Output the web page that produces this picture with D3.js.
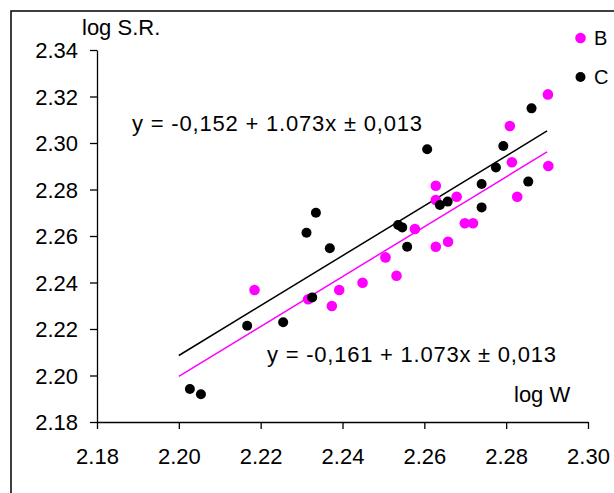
<!DOCTYPE html>
<html>
<head>
<meta charset="utf-8">
<script src="https://cdn.jsdelivr.net/npm/d3@7"></script>
<style>
  body { margin: 0; background: #fff; }
  svg { display: block; font-family: "Liberation Sans", Arial, sans-serif; }
</style>
</head>
<body>
<div id="chart"></div>
<script>
// series B (magenta) : [log W, log S.R.]
var seriesB = [
  [2.2185, 2.2368], [2.2316, 2.2328], [2.2374, 2.2299], [2.2392, 2.2368],
  [2.2449, 2.2399], [2.2505, 2.2508], [2.2532, 2.2429], [2.2577, 2.2630],
  [2.2628, 2.2554], [2.2628, 2.2755], [2.2628, 2.2816], [2.2658, 2.2575],
  [2.2679, 2.2769], [2.2699, 2.2655], [2.2719, 2.2655], [2.2809, 2.3073],
  [2.2814, 2.2917], [2.2827, 2.2769], [2.2903, 2.2901], [2.2902, 2.3209]
];
// series C (black)
var seriesC = [
  [2.2027, 2.1942], [2.2054, 2.1919], [2.2167, 2.2214], [2.2255, 2.2229],
  [2.2312, 2.2614], [2.2326, 2.2336], [2.2335, 2.2700], [2.2369, 2.2547],
  [2.2536, 2.2647], [2.2546, 2.2637], [2.2558, 2.2554], [2.2607, 2.2973],
  [2.2638, 2.2733], [2.2657, 2.2748], [2.2740, 2.2824], [2.2740, 2.2723],
  [2.2775, 2.2895], [2.2793, 2.2987], [2.2854, 2.2834], [2.2862, 2.3149]
];
// regression lines y = a + b x, drawn over [2.20, 2.29]
var fitB = { a: -0.161, b: 1.073 };
var fitC = { a: -0.152, b: 1.073 };
var fitRange = [2.20, 2.29];

var xTicks = [2.18, 2.20, 2.22, 2.24, 2.26, 2.28, 2.30];
var yTicks = [2.18, 2.20, 2.22, 2.24, 2.26, 2.28, 2.30, 2.32, 2.34];

var width = 614, height = 493;

var svg = d3.select("#chart")
  .append("svg")
  .attr("width", width)
  .attr("height", height);

// outer frame (right and bottom edges fall outside the picture)
svg.append("rect")
  .attr("x", 11)
  .attr("y", 11)
  .attr("width", 700)
  .attr("height", 600)
  .attr("fill", "none")
  .attr("stroke", "#000")
  .attr("stroke-width", 1.5);

var x = d3.scaleLinear().domain([2.18, 2.30]).range([97, 588]);
var y = d3.scaleLinear().domain([2.18, 2.34]).range([422, 50]);

var fmt = d3.format(".2f");

var yAxis = svg.append("g")
  .attr("transform", "translate(" + x(2.18) + ",0)")
  .call(d3.axisLeft(y).tickValues(yTicks).tickFormat(fmt).tickSize(7).tickSizeOuter(0).tickPadding(12));

var xAxis = svg.append("g")
  .attr("transform", "translate(0," + y(2.18) + ")")
  .call(d3.axisBottom(x).tickValues(xTicks).tickFormat(fmt).tickSize(7).tickSizeOuter(0));

[yAxis, xAxis].forEach(function (g) {
  g.selectAll("path, line").attr("stroke", "#000").attr("stroke-width", 1.3);
  g.selectAll("text")
    .attr("fill", "#000")
    .style("font-size", "22px")
    .style("font-family", "'Liberation Sans', Arial, sans-serif");
});
yAxis.selectAll("text").attr("dy", "0.36em");
xAxis.selectAll("text").attr("y", 42).attr("dy", 0);

// axis titles
svg.append("text")
  .attr("x", 82)
  .attr("y", 35)
  .style("font-size", "22px")
  .text("log S.R.");

svg.append("text")
  .attr("x", 514)
  .attr("y", 402)
  .style("font-size", "22px")
  .text("log W");

// regression lines
function fitLine(f) {
  return fitRange.map(function (v) { return [v, f.a + f.b * v]; });
}
var line = d3.line()
  .x(function (d) { return x(d[0]); })
  .y(function (d) { return y(d[1]); });

svg.append("path")
  .datum(fitLine(fitC))
  .attr("d", line)
  .attr("fill", "none")
  .attr("stroke", "#000")
  .attr("stroke-width", 1.5);

svg.append("path")
  .datum(fitLine(fitB))
  .attr("d", line)
  .attr("fill", "none")
  .attr("stroke", "#ff00ff")
  .attr("stroke-width", 1.5);

// points
svg.append("g").selectAll("circle")
  .data(seriesB)
  .enter()
  .append("circle")
  .attr("cx", function (d) { return x(d[0]); })
  .attr("cy", function (d) { return y(d[1]); })
  .attr("r", 5.3)
  .attr("fill", "#ff00ff");

svg.append("g").selectAll("circle")
  .data(seriesC)
  .enter()
  .append("circle")
  .attr("cx", function (d) { return x(d[0]); })
  .attr("cy", function (d) { return y(d[1]); })
  .attr("r", 5)
  .attr("fill", "#000");

// equations
svg.append("text")
  .attr("x", 132)
  .attr("y", 131)
  .attr("textLength", 290)
  .style("font-size", "22px")
  .text("y = -0,152 + 1.073x \u00b1 0,013");

svg.append("text")
  .attr("x", 267)
  .attr("y", 362)
  .attr("textLength", 289)
  .style("font-size", "22px")
  .text("y = -0,161 + 1.073x \u00b1 0,013");

// legend
var legend = [
  { name: "B", color: "#ff00ff", r: 5.3, cy: 38 },
  { name: "C", color: "#000", r: 5, cy: 77 }
];
var lg = svg.append("g").selectAll("g")
  .data(legend)
  .enter()
  .append("g");
lg.append("circle")
  .attr("cx", 580.5)
  .attr("cy", function (d) { return d.cy; })
  .attr("r", function (d) { return d.r; })
  .attr("fill", function (d) { return d.color; });
lg.append("text")
  .attr("x", 594)
  .attr("y", function (d) { return d.cy + 7; })
  .style("font-size", "20px")
  .text(function (d) { return d.name; });
</script>
</body>
</html>
